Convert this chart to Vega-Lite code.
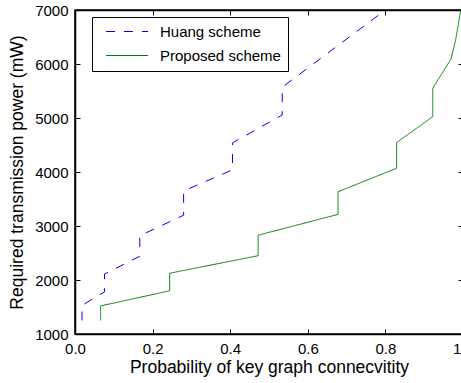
{
  "$schema": "https://vega.github.io/schema/vega-lite/v6.json",
  "width": 388,
  "height": 324,
  "autosize": {"type": "none"},
  "padding": {"left": 75, "top": 10, "right": 0, "bottom": 49},
  "background": "white",
  "config": {
    "font": "Liberation Sans",
    "view": {"stroke": "black", "strokeWidth": 1.5},
    "axis": {
      "domainColor": "black",
      "domainWidth": 1.5,
      "tickColor": "black",
      "tickSize": -5,
      "tickWidth": 1,
      "labelFont": "Liberation Sans",
      "labelFontSize": 15,
      "labelColor": "black",
      "titleFont": "Liberation Sans",
      "titleFontSize": 17.5,
      "titleFontWeight": "normal",
      "titleColor": "black",
      "grid": false
    }
  },
  "data": {
    "values": [
      {"scheme": "Huang scheme", "i": 0, "p": 0.018, "power": 1250},
      {"scheme": "Huang scheme", "i": 1, "p": 0.018, "power": 1530},
      {"scheme": "Huang scheme", "i": 2, "p": 0.076, "power": 1780},
      {"scheme": "Huang scheme", "i": 3, "p": 0.076, "power": 2110},
      {"scheme": "Huang scheme", "i": 4, "p": 0.167, "power": 2440},
      {"scheme": "Huang scheme", "i": 5, "p": 0.167, "power": 2820},
      {"scheme": "Huang scheme", "i": 6, "p": 0.28, "power": 3200},
      {"scheme": "Huang scheme", "i": 7, "p": 0.28, "power": 3650},
      {"scheme": "Huang scheme", "i": 8, "p": 0.406, "power": 4040},
      {"scheme": "Huang scheme", "i": 9, "p": 0.406, "power": 4540},
      {"scheme": "Huang scheme", "i": 10, "p": 0.534, "power": 5055},
      {"scheme": "Huang scheme", "i": 11, "p": 0.534, "power": 5570},
      {"scheme": "Huang scheme", "i": 12, "p": 0.8, "power": 7000},
      {"scheme": "Proposed scheme", "i": 0, "p": 0.066, "power": 1250},
      {"scheme": "Proposed scheme", "i": 1, "p": 0.066, "power": 1520},
      {"scheme": "Proposed scheme", "i": 2, "p": 0.244, "power": 1800},
      {"scheme": "Proposed scheme", "i": 3, "p": 0.244, "power": 2125},
      {"scheme": "Proposed scheme", "i": 4, "p": 0.472, "power": 2450},
      {"scheme": "Proposed scheme", "i": 5, "p": 0.472, "power": 2830},
      {"scheme": "Proposed scheme", "i": 6, "p": 0.678, "power": 3215},
      {"scheme": "Proposed scheme", "i": 7, "p": 0.678, "power": 3635},
      {"scheme": "Proposed scheme", "i": 8, "p": 0.829, "power": 4070},
      {"scheme": "Proposed scheme", "i": 9, "p": 0.829, "power": 4545},
      {"scheme": "Proposed scheme", "i": 10, "p": 0.922, "power": 5025},
      {"scheme": "Proposed scheme", "i": 11, "p": 0.922, "power": 5550},
      {"scheme": "Proposed scheme", "i": 12, "p": 0.969, "power": 6090},
      {"scheme": "Proposed scheme", "i": 13, "p": 0.981, "power": 6445},
      {"scheme": "Proposed scheme", "i": 14, "p": 0.987, "power": 6690},
      {"scheme": "Proposed scheme", "i": 15, "p": 0.994, "power": 7000}
    ]
  },
  "layer": [
    {
      "mark": {"type": "line", "strokeWidth": 1, "clip": true},
      "encoding": {
        "x": {
          "field": "p", "type": "quantitative",
          "scale": {"domain": [0, 1], "nice": false, "zero": false},
          "axis": {"orient": "bottom", "values": [0, 0.2, 0.4, 0.6, 0.8, 1], "title": "Probability of key graph connecvitity", "labelPadding": 12, "titlePadding": 2, "labelFlush": false, "labelOverlap": false}
        },
        "y": {
          "field": "power", "type": "quantitative",
          "scale": {"domain": [1000, 7000], "nice": false, "zero": false},
          "axis": {"orient": "left", "values": [1000, 2000, 3000, 4000, 5000, 6000, 7000], "format": "d", "title": "Required transmission power (mW)", "labelPadding": 12, "titlePadding": 8, "labelFlush": false, "labelOverlap": false}
        },
        "color": {
          "field": "scheme", "type": "nominal",
          "scale": {"domain": ["Huang scheme", "Proposed scheme"], "range": ["#0000ff", "#008000"]},
          "legend": {
            "title": null, "orient": "none", "legendX": 17, "legendY": 7,
            "strokeColor": "black", "fillColor": "white", "padding": 7,
            "symbolType": "M-0.1,0H8.3", "symbolSize": 100, "symbolStrokeWidth": 1,
            "labelFontSize": 15, "labelFont": "Liberation Sans", "labelColor": "black", "labelOffset": 46,
            "rowPadding": 8
          }
        },
        "strokeDash": {
          "field": "scheme", "type": "nominal",
          "scale": {"domain": ["Huang scheme", "Proposed scheme"], "range": [[9, 9], [1, 0]]},
          "legend": {
            "title": null, "orient": "none", "legendX": 17, "legendY": 7,
            "strokeColor": "black", "fillColor": "white", "padding": 7,
            "symbolType": "M-0.1,0H8.3", "symbolSize": 100, "symbolStrokeWidth": 1,
            "labelFontSize": 15, "labelFont": "Liberation Sans", "labelColor": "black", "labelOffset": 46,
            "rowPadding": 8
          }
        },
        "order": {"field": "i", "type": "quantitative"}
      }
    },
    {
      "mark": {"type": "line", "opacity": 0},
      "encoding": {
        "x": {
          "field": "p", "type": "quantitative",
          "axis": {"orient": "top", "values": [0, 0.2, 0.4, 0.6, 0.8, 1], "labels": false, "title": null}
        },
        "y": {
          "field": "power", "type": "quantitative",
          "axis": {"orient": "right", "values": [1000, 2000, 3000, 4000, 5000, 6000, 7000], "labels": false, "title": null}
        },
        "detail": {"field": "scheme"},
        "order": {"field": "i", "type": "quantitative"}
      }
    }
  ],
  "resolve": {"axis": {"x": "independent", "y": "independent"}}
}
